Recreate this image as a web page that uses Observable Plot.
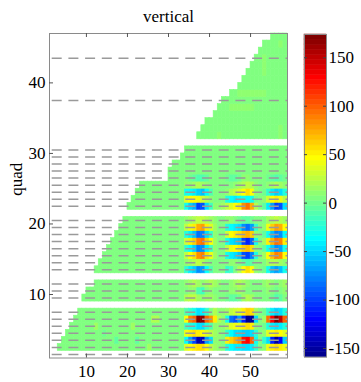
<!DOCTYPE html>
<html><head><meta charset="utf-8">
<script src="https://cdn.jsdelivr.net/npm/d3@7"></script>
<script src="https://cdn.jsdelivr.net/npm/@observablehq/plot@0.6"></script>
<style>
body{margin:0;background:#fff;}
#wrap{position:relative;width:361px;height:382px;overflow:hidden;background:#fff;}
#wrap svg{position:absolute;top:0;}
</style></head><body><div id="wrap"></div>
<script>
// ---------- data ----------
const chartTitle = "vertical";
const yLabel = "quad";
const xTicks = [10, 20, 30, 40, 50];
const yTicks = [10, 20, 30, 40];
const cbTicks = [-150, -100, -50, 0, 50, 100, 150];
const xDomain = [1, 59];
const yDomain = [1, 47];
const colorDomain = [-159, 174];
const lastCol = 58;
const baseValue = 5;
// first column with data for quad rows 1..46 (null = empty row)
const rowStart = [null,3,4,5,6,7,8,null,9,10,12,null,12,13,14,15,16,17,18,19,null,20,21,22,23,30,30,31,33,34,null,37,38,39,41,42,43,45,47,48,49,50,51,52,53,55];
// rows with dashed reference lines
const dashRows = [1,2,3,4,5,6,7,9,10,11,13,14,15,16,17,18,19,20,22,23,24,25,26,27,28,29,30,37,43];
// values for columns 34..58 of the structured rows
const patternFirstCol = 34;
const r2  = [35,45,50,55,55,45,25,15,10,5,-25,-35,-40,-40,-45,-45,-40,-20,5,10,40,50,55,50,40];
const r3  = [-35,-70,-100,-145,-140,-70,-45,10,10,5,50,60,70,85,125,130,100,-30,5,-20,-45,-110,-150,-120,-50];
const r4  = [40,50,55,50,45,35,25,15,10,5,-20,-35,-45,-45,-50,-50,-45,-20,5,10,35,45,50,45,35];
const r5  = [-15,-25,-30,-45,-45,-25,-10,10,10,10,20,35,40,40,50,55,50,10,5,0,-25,-40,-45,-40,-25];
const r6  = [45,90,100,170,165,100,85,50,20,10,-30,-85,-95,-70,-110,-155,-150,-45,5,15,95,130,172,150,100];
const r7  = [-10,-20,-30,-45,-40,-20,5,20,10,10,15,25,30,35,50,60,55,15,5,0,-20,-40,-50,-45,-25];
const r9  = [20,25,25,15,10,15,15,10,5,5,0,-5,-5,0,15,20,15,5,5,5,5,0,-10,-5,5];
const r10 = [5,10,10,-10,-15,5,10,5,5,5,5,10,10,15,10,5,5,5,5,5,10,5,0,5,10];
const r11 = [10,15,20,15,10,15,20,15,10,5,5,10,15,20,15,10,5,5,5,10,15,10,5,10,15];
const r13 = [-20,-40,-50,-75,-70,-35,-10,5,5,5,-20,-15,5,20,45,55,45,10,5,0,-30,-55,-70,-60,-30];
const r14 = [10,15,20,25,20,10,5,5,5,5,5,10,10,5,-5,-10,-5,5,5,5,15,20,20,15,10];
const r15 = [25,45,55,85,90,55,40,15,5,5,-30,-40,-45,-55,-95,-100,-80,-25,5,15,45,65,90,85,45];
const r16 = [-20,-35,-50,-80,-75,-40,-15,10,5,5,25,40,45,50,60,65,55,10,5,-5,-30,-50,-75,-70,-30];
const r17 = [30,50,60,90,95,60,45,15,5,5,-30,-45,-50,-60,-100,-110,-90,-30,5,15,50,70,95,90,50];
const r18 = [-25,-40,-55,-85,-80,-45,-20,10,5,5,30,45,50,55,65,70,60,10,5,-5,-30,-55,-80,-75,-35];
const r19 = [25,40,50,75,80,50,35,15,5,5,-25,-35,-40,-45,-75,-85,-70,-20,5,10,40,60,80,75,45];
const r20 = [10,15,20,25,25,20,15,10,5,5,10,10,5,0,-5,-5,0,5,5,5,15,20,25,20,15];
const r22 = [-30,-50,-65,-100,-95,-45,-15,10,10,15,25,35,45,50,85,95,75,20,5,-5,-40,-70,-100,-95,-45];
const r23 = [35,45,45,40,30,20,10,5,5,5,-25,-35,-40,-35,-30,-35,-30,0,5,10,30,45,50,40,25];
const r24 = [-30,-35,-40,-50,-55,-35,-10,5,5,5,10,20,25,35,45,55,45,10,5,0,-20,-40,-50,-45,-25];
const r25 = [10,10,15,20,15,10,5,5,5,5,5,5,10,15,20,25,20,10,5,5,10,15,20,15,10];
const r26 = [5,0,-5,-10,-10,-5,5,5,5,5,0,-5,-5,0,10,10,5,5,5,5,0,-5,-10,-5,0];
const patternRows = [[2,r2],[3,r3],[4,r4],[5,r5],[6,r6],[7,r7],[9,r9],[10,r10],[11,r11],[13,r13],[14,r14],[15,r15],[16,r16],[17,r17],[18,r18],[19,r19],[20,r20],[22,r22],[23,r23],[24,r24],[25,r25],[26,r26]];
// isolated slightly different cells [quad, column, value]
const tweaks = [[36,45,12],[36,46,12],[36,47,12],[36,48,12],[36,49,12],[36,50,12],
  [38,47,12],[38,48,12],[38,49,12],[38,50,12],[38,51,12],[38,52,12],[38,53,12],
  [41,53,12],[42,53,12],[43,53,12],[45,57,12],[32,42,12],[33,57,12],[32,57,12],
  [6,26,22],[6,27,22],[5,21,14],[3,22,-8],[4,14,-2],[2,25,15],[5,12,14],[3,17,-4]];

// ---------- build the cell table ----------
const patMap = new Map(patternRows);
const tweakMap = new Map(tweaks.map(([q, x, v]) => [q + "," + x, v]));
const cells = [];
rowStart.forEach((start, i) => {
  if (start == null) return;
  const q = i + 1;
  const pat = patMap.get(q);
  for (let x = start; x <= lastCol; x++) {
    let v = baseValue;
    if (tweakMap.has(q + "," + x)) v = tweakMap.get(q + "," + x);
    if (pat && x >= patternFirstCol) v = pat[x - patternFirstCol];
    cells.push({x, q, v});
  }
});

// MATLAB jet, 64 flat levels
function jet(t) {
  const i = Math.max(1, Math.min(64, Math.floor(t * 64) + 1));
  let r, g, b;
  if (i <= 8) { r = 0; g = 0; b = (i + 8) / 16; }
  else if (i <= 24) { r = 0; g = (i - 8) / 16; b = 1; }
  else if (i <= 40) { r = (i - 24) / 16; g = 1; b = 1 - (i - 24) / 16; }
  else if (i <= 56) { r = 1; g = 1 - (i - 40) / 16; b = 0; }
  else { r = 1 - (i - 56) / 16; g = 0; b = 0; }
  return d3.rgb(r * 255, g * 255, b * 255).toString();
}
const colorScale = {type: "linear", domain: colorDomain, interpolate: jet};
const font = "'Liberation Serif', 'Times New Roman', serif";
const fs = 17;
const axisColor = "#8a8a8a";

// ---------- main plot ----------
const W = 295, H = 382, mL = 49, mR = 8, mT = 33, mB = 24.5;
const plotW = W - mL - mR, plotH = H - mT - mB;
const main = Plot.plot({
  width: W, height: H,
  marginLeft: mL, marginRight: mR, marginTop: mT, marginBottom: mB,
  style: {fontFamily: font, fontSize: fs + "px", background: "transparent", color: "black"},
  x: {domain: xDomain},
  y: {domain: yDomain},
  color: colorScale,
  marks: [
    Plot.rect(cells, {x1: "x", x2: d => d.x + 1, y1: "q", y2: d => d.q + 1, fill: "v", stroke: "v", strokeWidth: 0.6}),
    Plot.ruleY(dashRows, {y: d => d + 0.5, stroke: "#9a9a9a", strokeWidth: 1.5, strokeDasharray: "10,6.7", strokeDashoffset: 14}),
    Plot.frame({stroke: axisColor}),
    Plot.ruleX(xTicks, {stroke: "#555", insetTop: plotH - 4}),
    Plot.ruleX(xTicks, {stroke: "#555", insetBottom: plotH - 4}),
    Plot.ruleY(yTicks, {stroke: "#555", insetRight: plotW - 4}),
    Plot.axisX({ticks: xTicks, tickSize: 0, tickPadding: 7, fontSize: fs, label: null, tickFormat: d => String(d)}),
    Plot.axisY({ticks: yTicks, tickSize: 0, tickPadding: 4, fontSize: fs, label: null, tickFormat: d => String(d)}),
    Plot.text([chartTitle], {text: d => d, frameAnchor: "top", dy: -11.5, lineAnchor: "bottom", fontSize: fs}),
    Plot.text([yLabel], {text: d => d, frameAnchor: "left", dx: -33, rotate: -90, fontSize: fs})
  ]
});
main.style.left = "0px";

// ---------- colour bar ----------
const cbW = 71, cbL = 14, cbBar = 22, cbT = 34, cbB = 25.3;
const step = (colorDomain[1] - colorDomain[0]) / 64;
const cbBins = d3.range(64).map(k => ({lo: colorDomain[0] + k * step, hi: colorDomain[0] + (k + 1) * step}));
const cb = Plot.plot({
  width: cbW, height: H,
  marginLeft: cbL, marginRight: cbW - cbL - cbBar, marginTop: cbT, marginBottom: cbB,
  style: {fontFamily: font, fontSize: fs + "px", background: "transparent", color: "black", overflow: "visible"},
  x: {axis: null},
  y: {domain: colorDomain, axis: null},
  color: colorScale,
  marks: [
    Plot.rect(cbBins, {y1: "lo", y2: "hi", fill: d => (d.lo + d.hi) / 2, stroke: d => (d.lo + d.hi) / 2, strokeWidth: 0.5}),
    Plot.frame({stroke: axisColor}),
    Plot.ruleY(cbTicks, {stroke: "#444", insetRight: cbBar - 3}),
    Plot.ruleY(cbTicks, {stroke: "#444", insetLeft: cbBar - 3}),
    Plot.axisY({anchor: "right", ticks: cbTicks, tickSize: 0, tickPadding: 2, fontSize: fs, label: null, tickFormat: d => String(d)})
  ]
});
cb.style.left = "290px";

const wrap = document.getElementById("wrap");
wrap.appendChild(main);
wrap.appendChild(cb);
</script></body></html>
